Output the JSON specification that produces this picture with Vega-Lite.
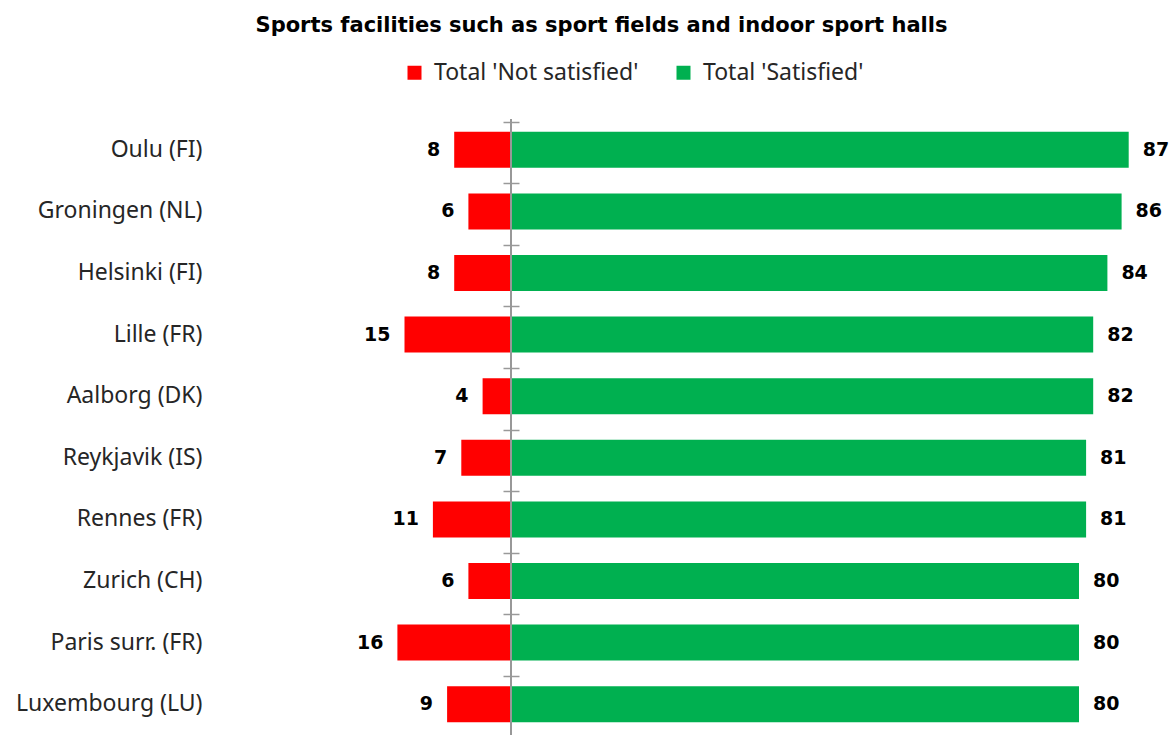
{
  "$schema": "https://vega.github.io/schema/vega-lite/v6.json",
  "autosize": "none",
  "width": 923,
  "height": 616,
  "padding": {"left": 227, "top": 119, "right": 22, "bottom": 0},
  "background": "white",
  "config": {"view": {"stroke": null}},
  "title": {
    "text": "Sports facilities such as sport fields and indoor sport halls",
    "font": "DejaVu Sans",
    "fontSize": 21,
    "fontWeight": "bold",
    "color": "#000000",
    "anchor": "middle",
    "dx": -87,
    "offset": 25
  },
  "data": {
    "values": [
      {"city": "Oulu (FI)", "not": 8, "sat": 87},
      {"city": "Groningen (NL)", "not": 6, "sat": 86},
      {"city": "Helsinki (FI)", "not": 8, "sat": 84},
      {"city": "Lille (FR)", "not": 15, "sat": 82},
      {"city": "Aalborg (DK)", "not": 4, "sat": 82},
      {"city": "Reykjavik (IS)", "not": 7, "sat": 81},
      {"city": "Rennes (FR)", "not": 11, "sat": 81},
      {"city": "Zurich (CH)", "not": 6, "sat": 80},
      {"city": "Paris surr. (FR)", "not": 16, "sat": 80},
      {"city": "Luxembourg (LU)", "not": 9, "sat": 80}
    ]
  },
  "layer": [
    {
      "mark": {"type": "bar", "size": 36},
      "encoding": {
        "y": {"field": "city", "type": "nominal", "sort": null, "title": null,
          "axis": {"orient": "left", "ticks": false, "domain": false, "labelPadding": 25, "labelLimit": 400, "labelFont": "Noto Sans", "labelFontSize": 23, "labelColor": "#262626"}},
        "x": {"field": "not", "type": "quantitative", "scale": {"domain": [40, -90], "nice": false, "zero": false}, "axis": null},
        "x2": {"datum": 0},
        "color": {"datum": "Total 'Not satisfied'", "type": "nominal",
          "scale": {"domain": ["Total 'Not satisfied'", "Total 'Satisfied'"], "range": ["#FF0000", "#00B050"]},
          "legend": {"orient": "none", "direction": "horizontal", "legendX": 176, "legendY": -58, "title": null, "labelLimit": 400,
            "symbolType": "square", "symbolSize": 196, "symbolStrokeWidth": 0, "labelFont": "Noto Sans", "labelFontSize": 23, "labelColor": "#262626", "columnPadding": 33, "labelOffset": 8}}
      }
    },
    {
      "mark": {"type": "text", "align": "right", "dx": -14, "font": "DejaVu Sans", "fontSize": 19, "fontWeight": "bold", "color": "#000000"},
      "encoding": {
        "y": {"field": "city", "type": "nominal", "sort": null, "axis": null},
        "x": {"field": "not", "type": "quantitative", "scale": {"domain": [40, -90], "nice": false, "zero": false}, "axis": null},
        "text": {"field": "not", "type": "quantitative"}
      }
    },
    {
      "mark": {"type": "bar", "size": 36},
      "encoding": {
        "y": {"field": "city", "type": "nominal", "sort": null, "title": null,
          "axis": {"orient": "left", "labels": false, "domain": false, "ticks": true, "tickSize": 16, "tickColor": "#999999", "tickWidth": 1.5, "offset": -292, "bandPosition": 0, "grid": false}},
        "x": {"field": "sat", "type": "quantitative", "scale": {"domain": [-40, 90], "nice": false, "zero": false}, "axis": null},
        "x2": {"datum": 0},
        "color": {"datum": "Total 'Satisfied'", "type": "nominal"}
      }
    },
    {
      "mark": {"type": "text", "align": "left", "dx": 14, "font": "DejaVu Sans", "fontSize": 19, "fontWeight": "bold", "color": "#000000"},
      "encoding": {
        "y": {"field": "city", "type": "nominal", "sort": null, "axis": null},
        "x": {"field": "sat", "type": "quantitative", "scale": {"domain": [-40, 90], "nice": false, "zero": false}, "axis": null},
        "text": {"field": "sat", "type": "quantitative"}
      }
    },
    {
      "mark": {"type": "rule", "color": "#999999", "strokeWidth": 1.5},
      "encoding": {
        "x": {"datum": 0, "type": "quantitative", "scale": {"domain": [-40, 90], "nice": false, "zero": false}, "axis": null}
      }
    }
  ],
  "resolve": {"scale": {"x": "independent"}, "axis": {"y": "independent"}}
}
